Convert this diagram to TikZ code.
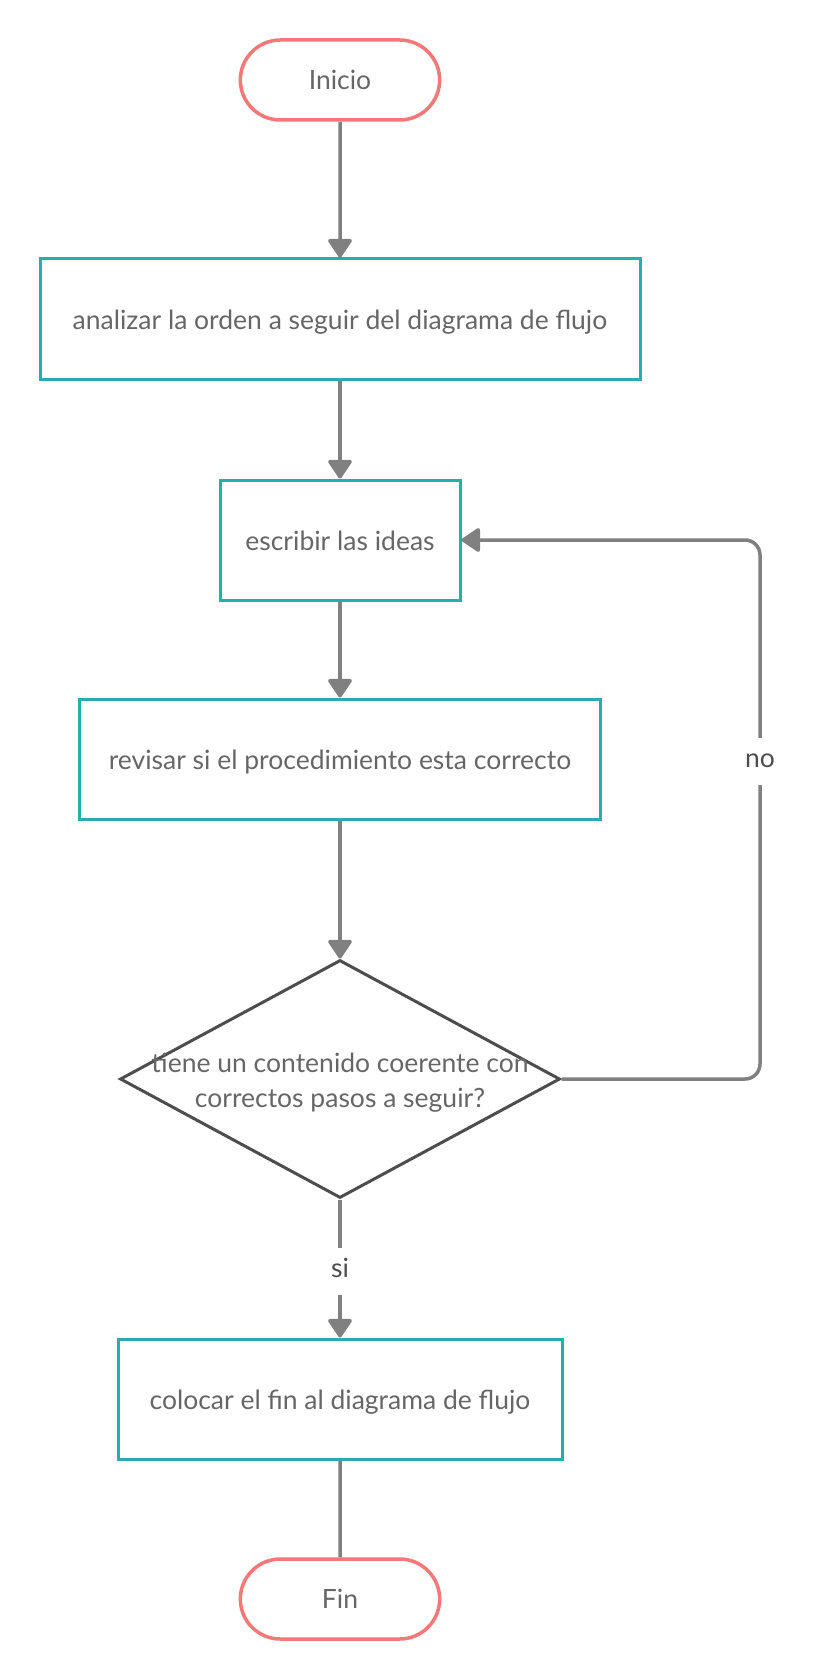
\documentclass[tikz,border=0pt]{standalone}
\usepackage{fontspec}
\setmainfont{Lato}
\usetikzlibrary{arrows.meta,shapes.geometric,shapes.misc}

\definecolor{rojoterm}{HTML}{F47878}
\definecolor{verdeproc}{HTML}{23B0AC}
\definecolor{grisdec}{HTML}{4D4D4D}
\definecolor{grisflecha}{HTML}{808080}
\definecolor{gristexto}{HTML}{666666}

\tikzset{
  terminal/.style={rounded rectangle, draw=rojoterm, line width=3.5pt, fill=white,
    minimum width=206pt, minimum height=80pt, text=gristexto},
  proceso/.style={rectangle, draw=verdeproc, line width=3pt, fill=white,
    minimum height=120pt, text=gristexto, text height=22pt, text depth=1pt},
  decision/.style={diamond, draw=grisdec, line width=3pt, fill=white, inner sep=0pt,
    minimum width=440pt, minimum height=238pt},
  flecha/.style={draw=grisflecha, line width=3.5pt, -{Triangle[width=26pt,length=20pt,round]}},
  linea/.style={draw=grisflecha, line width=3.5pt},
  etiqueta/.style={fill=white, text=grisdec, inner xsep=4pt, inner ysep=11pt,
    text height=19pt, text depth=6pt}
}

\begin{document}
\begin{tikzpicture}[x=1pt, y=-1pt, font=\fontsize{26.5}{35}\selectfont]
    \useasboundingbox[fill=white] (0,0) rectangle (816,1680);

    % nodos del diagrama
    \node[terminal] (inicio) at (340,80) {Inicio};
    \node[proceso, minimum width=600pt] (analizar) at (340,319) {analizar la orden a seguir del diagrama de flujo};
    \node[proceso, minimum width=240pt] (escribir) at (340,540) {escribir las ideas};
    \node[proceso, minimum width=521pt] (revisar) at (340,759) {revisar si el procedimiento esta correcto};
    \node[decision] (coherente) at (340,1079) {};
    \node[text=gristexto, align=center] (pregunta) at (340,1083) {tiene un contenido coerente con\\correctos pasos a seguir?};
    \node[proceso, minimum width=444pt] (colocar) at (340,1399) {colocar el fin al diagrama de flujo};
    \node[terminal] (fin) at (340,1599) {Fin};

    % conectores
    \draw[flecha] (inicio) -- (analizar);
    \draw[flecha] (analizar) -- (escribir);
    \draw[flecha] (escribir) -- (revisar);
    \draw[flecha] (revisar) -- (coherente);
    \draw[flecha] (coherente) -- (colocar);
    \draw[linea] (colocar) -- (fin);

    \coordinate (lazo) at (760,761);
    \draw[flecha, rounded corners=15pt] (coherente.east) -- (coherente.east -| lazo)
        -- (escribir.east -| lazo) -- (escribir.east);

    \node[etiqueta] (no) at (lazo) {no};
    \node[etiqueta] (si) at (340,1271) {si};
\end{tikzpicture}
\end{document}
